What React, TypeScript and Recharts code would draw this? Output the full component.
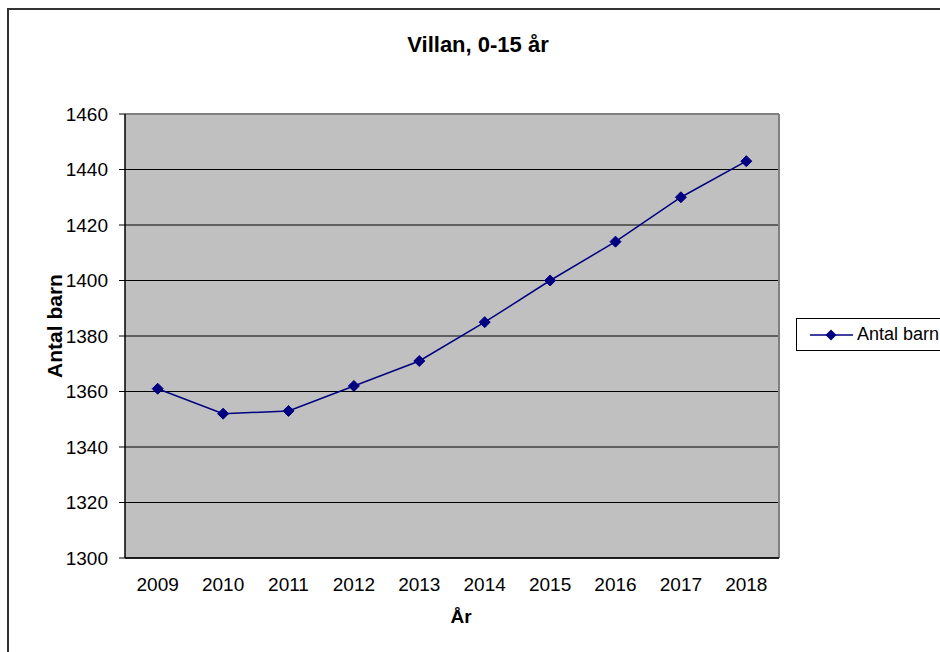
import React from "react";
import {
  LineChart,
  Line,
  XAxis,
  YAxis,
  CartesianGrid,
  ReferenceLine,
  Legend,
  Label,
} from "recharts";

const years = ["2009", "2010", "2011", "2012", "2013", "2014", "2015", "2016", "2017", "2018"];
const antalBarn = [1361, 1352, 1353, 1362, 1371, 1385, 1400, 1414, 1430, 1443];
const yTicks = [1300, 1320, 1340, 1360, 1380, 1400, 1420, 1440, 1460];
const slotTicks = [0, 1, 2, 3, 4, 5, 6, 7, 8, 9, 10];

const NAVY = "#000080";
const FONT = "'Liberation Sans', Arial, sans-serif";
const PLOT_W = 654;

// x position in the middle of each category slot, so the tick marks fall between years
const data = years.map((year, i) => ({ year, slot: i + 0.5, antal: antalBarn[i] }));

const Diamond = (props: any) => {
  const { cx, cy } = props;
  if (cx == null || cy == null) return null;
  const r = 5.5;
  return (
    <path
      d={`M${cx},${cy - r}L${cx + r},${cy}L${cx},${cy + r}L${cx - r},${cy}Z`}
      fill={NAVY}
      stroke={NAVY}
    />
  );
};

const LegendBox = (props: any) => {
  const items = props.payload || [];
  return (
    <div
      style={{
        border: "1px solid #000",
        background: "#fff",
        height: 31,
        width: 200,
        display: "flex",
        alignItems: "center",
        fontFamily: FONT,
        fontSize: 18,
      }}
    >
      {items.map((it: any) => (
        <div key={it.value} style={{ display: "flex", alignItems: "center" }}>
          <svg width={60} height={14} style={{ display: "block" }}>
            <line x1={13} y1={7} x2={56} y2={7} stroke={NAVY} strokeWidth={1.5} />
            <path d="M34,1.5L39.5,7L34,12.5L28.5,7Z" fill={NAVY} />
          </svg>
          <span>{it.value}</span>
        </div>
      ))}
    </div>
  );
};

const YTitle = (props: any) => {
  const vb = props.viewBox;
  const x = vb.x + 29;
  const y = vb.y + vb.height / 2 - 10;
  return (
    <text
      x={x}
      y={y}
      transform={`rotate(-90, ${x}, ${y})`}
      textAnchor="middle"
      dominantBaseline="central"
      fontFamily={FONT}
      fontWeight="bold"
      fontSize={21}
      fill="#000"
    >
      Antal barn
    </text>
  );
};

const XTitle = (props: any) => {
  const vb = props.viewBox;
  return (
    <text
      x={vb.x + vb.width / 2 + 9}
      y={vb.y + vb.height - 1}
      textAnchor="middle"
      fontFamily={FONT}
      fontWeight="bold"
      fontSize={19}
      fill="#000"
    >
      År
    </text>
  );
};

export default function App() {
  const half = PLOT_W / years.length / 2;
  return (
    <div
      style={{
        position: "absolute",
        left: 0,
        top: 0,
        width: 940,
        height: 652,
        overflow: "hidden",
        background: "#fff",
      }}
    >
      <div
        style={{
          position: "absolute",
          left: 7,
          top: 8,
          width: 1000,
          height: 700,
          border: "2px solid #333",
        }}
      />
      <svg
        width={940}
        height={70}
        style={{ position: "absolute", left: 0, top: 0 }}
      >
        <text
          x={478}
          y={52}
          textAnchor="middle"
          fontFamily={FONT}
          fontWeight="bold"
          fontSize={22}
          fill="#000"
        >
          Villan, 0-15 år
        </text>
      </svg>
      <div style={{ position: "absolute", left: 0, top: 0 }}>
        <LineChart
          width={1000}
          height={660}
          data={data}
          margin={{ top: 114, right: 221, bottom: 36, left: 25 }}
        >
          <CartesianGrid
            xAxisId="slot"
            vertical={false}
            stroke="#000"
            strokeWidth={1.2}
            fill="#c0c0c0"
            fillOpacity={1}
          />
          <XAxis
            xAxisId="slot"
            type="number"
            dataKey="slot"
            domain={[0, 10]}
            ticks={slotTicks}
            tick={false}
            tickLine={{ stroke: "#000" }}
            tickSize={6}
            axisLine={{ stroke: "#000", strokeWidth: 1.5 }}
            height={8}
          />
          <XAxis
            xAxisId="year"
            dataKey="year"
            type="category"
            padding={{ left: half, right: half }}
            axisLine={false}
            tickLine={false}
            tickSize={0}
            tickMargin={12}
            tick={{ fontSize: 19, fill: "#000", fontFamily: FONT }}
            interval={0}
            height={58}
          >
            <Label content={<XTitle />} />
          </XAxis>
          <YAxis
            domain={[1300, 1460]}
            ticks={yTicks}
            interval={0}
            width={100}
            tick={{ fontSize: 19, fill: "#000", fontFamily: FONT }}
            tickLine={{ stroke: "#000" }}
            tickSize={6}
            tickMargin={11}
            axisLine={{ stroke: "#000", strokeWidth: 1.5 }}
          >
            <Label content={<YTitle />} />
          </YAxis>
          <ReferenceLine xAxisId="slot" y={1460} stroke="#808080" strokeWidth={2} />
          <ReferenceLine xAxisId="slot" x={10} stroke="#808080" strokeWidth={2} />
          <Legend
            layout="horizontal"
            verticalAlign="middle"
            align="center"
            content={<LegendBox />}
            wrapperStyle={{ left: 796, top: 318, width: 200, height: 33 }}
          />
          <Line
            xAxisId="slot"
            type="linear"
            dataKey="antal"
            name="Antal barn"
            stroke={NAVY}
            strokeWidth={1.5}
            dot={<Diamond />}
            activeDot={false}
            legendType="diamond"
            isAnimationActive={false}
          />
        </LineChart>
      </div>
    </div>
  );
}
